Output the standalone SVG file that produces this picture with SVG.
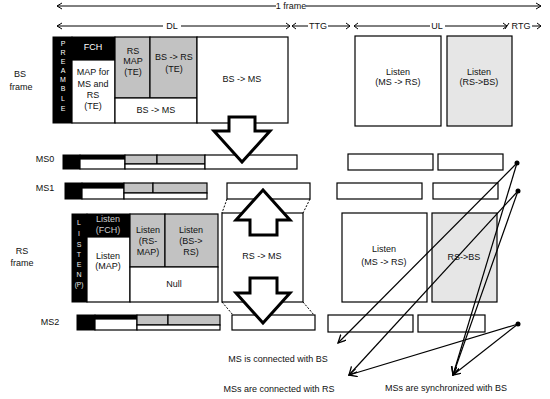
<svg xmlns="http://www.w3.org/2000/svg" width="550" height="399" viewBox="0 0 550 399">
<style>
text{font-family:"Liberation Sans",Arial,sans-serif;font-size:9px;fill:#111;text-anchor:middle;dominant-baseline:middle}
.b{stroke:#000;stroke-width:1.2;fill:#fff}
.g{stroke:#000;stroke-width:1.2;fill:#c2c2c2}
.lg{stroke:#000;stroke-width:1.2;fill:#e6e6e6}
.k{fill:#000;stroke:#000;stroke-width:1}
.ln{stroke:#000;stroke-width:1;fill:none}
.ds{stroke:#000;stroke-width:1;fill:none;stroke-dasharray:2,1.5}
.ba{fill:#fff;stroke:#000;stroke-width:3;stroke-linejoin:miter}
.wt{fill:#fff;font-size:7px}
.gt{fill:#eee;font-size:7px}
</style>
<defs>
<marker id="ah" markerWidth="9" markerHeight="9" refX="8" refY="4" orient="auto" markerUnits="userSpaceOnUse">
<path d="M0,0 L8,4 L0,8" fill="none" stroke="#000" stroke-width="1.3"/>
</marker>
</defs>
<rect width="550" height="399" fill="#fff"/>

<!-- timeline dimension lines -->
<g id="dims">
<path class="ln" d="M57,6 H276 M306,6 H541 M62,3 L57,6 L62,9 M536,3 L541,6 L536,9"/>
<text x="291" y="6.5">1 frame</text>
<path class="ln" d="M57,26 H163 M181,26 H290 M62,23 L57,26 L62,29 M286,23 L290,26 L286,29 M292,26 H308 M296,23 L292,26 L296,29 M328,26 H350 M346,23 L350,26 L346,29 M354,26 H430 M358,23 L354,26 L358,29 M445,26 H507 M503,23 L507,26 L503,29 M509,23 L505,29 M532,26 H541 M537,23 L541,26 L537,29"/>
<text x="172" y="26.5">DL</text>
<text x="318" y="26.5">TTG</text>
<text x="437" y="26.5">UL</text>
<text x="521" y="26.5">RTG</text>
</g>

<!-- row labels -->
<g id="labels">
<text x="20" y="75">BS</text><text x="21" y="88">frame</text>
<text x="45" y="160">MS0</text>
<text x="45" y="189">MS1</text>
<text x="22" y="252">RS</text><text x="22" y="264">frame</text>
<text x="50" y="323">MS2</text>
</g>

<!-- BS frame -->
<g id="bs-preamble"><rect class="k" x="53" y="37" width="19" height="86"/>
<text class="wt" x="63" y="44">P</text><text class="wt" x="63" y="53">R</text><text class="wt" x="63" y="62">E</text><text class="wt" x="63" y="71">A</text><text class="wt" x="63" y="80">M</text><text class="wt" x="63" y="89">B</text><text class="wt" x="63" y="99">L</text><text class="wt" x="63" y="109">E</text></g>
<g id="bs-fch"><rect class="k" x="72" y="37" width="43" height="23"/><text x="93" y="48" style="fill:#fff">FCH</text></g>
<g id="bs-map"><rect class="b" x="72" y="60" width="43" height="63"/><text x="93" y="73">MAP for</text><text x="93" y="85">MS and</text><text x="93" y="96">RS</text><text x="93" y="107">(TE)</text></g>
<g id="bs-rsmap"><rect class="g" x="115" y="37" width="35" height="61"/><text x="133" y="52">RS</text><text x="133" y="62">MAP</text><text x="133" y="73">(TE)</text></g>
<g id="bs-bsrs"><rect class="g" x="150" y="37" width="47" height="61"/><text x="174" y="58">BS -&gt; RS</text><text x="174" y="70">(TE)</text></g>
<g id="bs-bsms-small"><rect class="b" x="115" y="98" width="82" height="25"/><text x="156" y="111">BS -&gt; MS</text></g>
<g id="bs-bsms"><rect class="b" x="197" y="37" width="91" height="86"/><text x="242" y="80">BS -&gt; MS</text></g>
<g id="bs-listen"><rect class="b" x="355" y="36" width="86" height="90"/><text x="398" y="73">Listen</text><text x="398" y="83">(MS -&gt; RS)</text></g>
<g id="bs-listen2"><rect class="lg" x="447" y="36" width="65" height="90"/><text x="479" y="73">Listen</text><text x="479" y="83">(RS-&gt;BS)</text></g>

<!-- MS0 -->
<g id="ms0">
<rect class="k" x="63" y="155" width="17" height="14"/>
<rect class="k" x="80" y="155" width="45" height="4"/>
<rect class="b" x="80" y="159" width="45" height="10"/>
<rect class="g" x="125" y="155" width="32" height="9"/>
<rect class="g" x="157" y="155" width="48" height="9"/>
<rect class="b" x="125" y="164" width="80" height="5"/>
<rect class="b" x="205" y="155" width="92" height="14"/>
<rect class="b" x="348" y="154" width="85" height="16"/>
<rect class="b" x="438" y="154" width="65" height="16"/>
</g>
<!-- MS1 -->
<g id="ms1">
<rect class="k" x="65" y="183" width="17" height="16"/>
<rect class="k" x="82" y="183" width="42" height="5"/>
<rect class="b" x="82" y="188" width="42" height="11"/>
<rect class="g" x="124" y="183" width="29" height="10"/>
<rect class="g" x="153" y="183" width="54" height="10"/>
<rect class="b" x="124" y="193" width="83" height="6"/>
<rect class="b" x="227" y="183" width="83" height="16"/>
<rect class="b" x="337" y="183" width="85" height="16"/>
<rect class="b" x="433" y="183" width="65" height="16"/>
</g>

<!-- RS frame -->
<g id="rs-listenp"><rect class="k" x="72" y="214" width="15" height="88"/>
<text class="gt" x="79" y="223">L</text><text class="gt" x="79" y="234">I</text><text class="gt" x="79" y="245">S</text><text class="gt" x="79" y="255">T</text><text class="gt" x="79" y="265">E</text><text class="gt" x="79" y="275">N</text><text class="gt" x="79" y="285" style="font-size:6.5px">(P)</text></g>
<g id="rs-fch"><rect class="k" x="87" y="214" width="43" height="23"/><text x="108" y="220" style="fill:#ccc">Listen</text><text x="108" y="231" style="fill:#ccc">(FCH)</text></g>
<g id="rs-map"><rect class="b" x="87" y="237" width="43" height="65"/><text x="108" y="257">Listen</text><text x="108" y="267">(MAP)</text></g>
<g id="rs-rsmap"><rect class="g" x="130" y="214" width="35" height="53"/><text x="148" y="231">Listen</text><text x="148" y="242">(RS-</text><text x="148" y="253">MAP)</text></g>
<g id="rs-bsrs"><rect class="g" x="165" y="214" width="53" height="53"/><text x="191" y="231">Listen</text><text x="191" y="242">(BS-&gt;</text><text x="191" y="253">RS)</text></g>
<g id="rs-null"><rect class="b" x="130" y="267" width="88" height="35"/><text x="174" y="285">Null</text></g>
<g id="rs-rsms"><rect class="b" x="222" y="213" width="81" height="89"/><text x="262" y="257">RS -&gt; MS</text></g>
<g id="rs-listen"><rect class="b" x="342" y="213" width="85" height="89"/><text x="384" y="250">Listen</text><text x="384" y="263">(MS -&gt; RS)</text></g>
<g id="rs-rsbs"><rect class="lg" x="432" y="213" width="65" height="89"/><text x="464" y="258">RS-&gt;BS</text></g>

<!-- MS2 -->
<g id="ms2">
<rect class="k" x="77" y="315" width="18" height="15"/>
<rect class="k" x="95" y="315" width="42" height="4"/>
<rect class="b" x="95" y="319" width="42" height="11"/>
<rect class="g" x="137" y="315" width="31" height="10"/>
<rect class="g" x="168" y="315" width="52" height="10"/>
<rect class="b" x="137" y="325" width="83" height="5"/>
<rect class="b" x="232" y="315" width="83" height="15"/>
<rect class="b" x="328" y="315" width="85" height="17"/>
<rect class="b" x="418" y="315" width="67" height="17"/>
</g>

<!-- connectors -->
<g id="connectors">
<path class="ds" d="M227,199 L222,213 M310,199 L303,213 M222,302 L233,315 M303,302 L314,315"/>
<path class="ba" d="M229,117 H255 V131 H270 L242,162 L214,131 H229 Z"/>
<path class="ba" d="M250,235 H277 V220 H290 L263,190 L236,220 H250 Z"/>
<path class="ba" d="M250,278 H277 V293 H290 L263,323 L236,293 H250 Z"/>
<g stroke="#000" stroke-width="1.2" fill="none" marker-end="url(#ah)">
<line x1="517" y1="163" x2="338" y2="343"/>
<line x1="517" y1="163" x2="453" y2="375"/>
<line x1="518" y1="191" x2="349" y2="375"/>
<line x1="518" y1="191" x2="453" y2="375"/>
<line x1="518" y1="324" x2="349" y2="375"/>
<line x1="518" y1="324" x2="453" y2="375"/>
</g>
<circle cx="517" cy="163" r="2.5"/>
<circle cx="518" cy="191" r="2.5"/>
<circle cx="518" cy="324" r="2.5"/>
</g>

<g id="notes">
<text x="278" y="360">MS is connected with BS</text>
<text x="279" y="390">MSs are connected with RS</text>
<text x="446" y="389">MSs are synchronized with BS</text>
</g>
</svg>
